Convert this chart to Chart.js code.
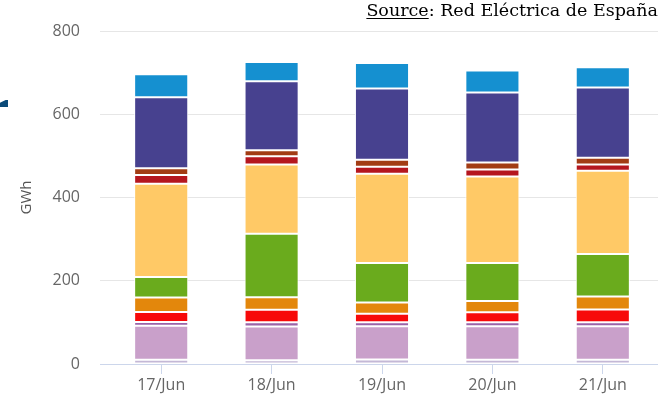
<!DOCTYPE html>
<html>
<head>
<meta charset="utf-8">
<script src="https://cdn.jsdelivr.net/npm/chart.js@4/dist/chart.umd.min.js"></script>
<style>
  body { margin: 0; background: #fff; }
  #wrap { position: relative; width: 659px; height: 398px; overflow: hidden; }
  #source {
    position: absolute; right: 1px; top: 0px;
    font-family: "DejaVu Serif", "Liberation Serif", serif;
    font-size: 17.5px; color: #000; white-space: nowrap;
  }
  #source u { text-underline-offset: 2px; }
  #mark {
    position: absolute; left: 0; top: 100px; width: 8px; height: 7px;
    background: #0b4a78;
    clip-path: polygon(0 40%, 70% 0, 100% 0, 100% 100%, 0 100%);
  }
</style>
</head>
<body>
<div id="wrap">
  <canvas id="chart" width="659" height="398"></canvas>
  <div id="source"><u>Source</u>: Red Eléctrica de España</div>
  <div id="mark"></div>
</div>
<script>
// --- DATA (GWh per day) ---
const days = ["17/Jun", "18/Jun", "19/Jun", "20/Jun", "21/Jun"];

const wasteVals     = [10, 9, 11, 10, 10];
const cogenVals     = [82, 81, 79.5, 80.5, 80.5];
const thermRenVals  = [9, 10.5, 10, 10, 10];
const solarThVals   = [24, 30, 20.5, 24, 30.5];
const solarPvVals   = [34.5, 30, 26.5, 27, 31];
const windVals      = [49.5, 152.5, 95, 91, 102];
const combCycleVals = [224, 166, 214.5, 208, 200];
const coalVals      = [21, 20, 17, 17, 15.5];
const fuelGasVals   = [16.5, 14.5, 16.5, 16.5, 16];
const nuclearVals   = [170.5, 166, 171.5, 168.5, 168.5];
const hydroVals     = [55, 46, 61, 52.5, 49];

const yTicks = [0, 200, 400, 600, 800];

// stack order, bottom to top
const series = [
    { label: "Residuos", data: wasteVals, color: "#c4b8d6" },
    { label: "Cogeneración", data: cogenVals, color: "#c9a0ca" },
    { label: "Térmica renovable", data: thermRenVals, color: "#9a63a8" },
    { label: "Solar térmica", data: solarThVals, color: "#f70a0a" },
    { label: "Solar fotovoltaica", data: solarPvVals, color: "#e3870c" },
    { label: "Eólica", data: windVals, color: "#6aab1d" },
    { label: "Ciclo combinado", data: combCycleVals, color: "#ffc966" },
    { label: "Carbón", data: coalVals, color: "#b5161e" },
    { label: "Fuel + Gas", data: fuelGasVals, color: "#a23c14" },
    { label: "Nuclear", data: nuclearVals, color: "#47418f" },
    { label: "Hidráulica", data: hydroVals, color: "#1590d0" }
];

const datasets = series.map(s => ({
    label: s.label,
    data: s.data,
    backgroundColor: s.color,
    borderColor: "#ffffff",
    borderWidth: 1,
    borderSkipped: false,
    categoryPercentage: 1,
    barPercentage: 0.49
}));

const tickFont = { family: "'Open Sans', sans-serif", size: 16 };

new Chart(document.getElementById("chart"), {
    type: "bar",
    data: { labels: days, datasets: datasets },
    options: {
        responsive: false,
        animation: false,
        layout: { padding: { top: 31, right: 1, left: 0, bottom: 0 } },
        plugins: { legend: { display: false }, tooltip: { enabled: false } },
        scales: {
            x: {
                stacked: true,
                border: { display: false },
                grid: {
                    offset: false,
                    drawOnChartArea: false,
                    drawTicks: true,
                    tickLength: 10,
                    color: "#ccd6eb"
                },
                ticks: { color: "#666666", font: tickFont, padding: 2, maxRotation: 0 },
                afterFit: (s) => { s.height = 34; }
            },
            y: {
                stacked: true,
                min: 0,
                max: 800,
                border: { display: false },
                afterBuildTicks: (s) => { s.ticks = yTicks.map(v => ({ value: v })); },
                grid: {
                    tickLength: 6,
                    color: (ctx) => ctx.tick && ctx.tick.value === 0 ? "#ccd6eb" : "#e6e6e6"
                },
                ticks: { color: "#666666", font: tickFont, padding: 20 },
                title: {
                    display: true,
                    text: "GWh",
                    color: "#555555",
                    font: { family: "'Open Sans', sans-serif", size: 15 },
                    padding: { top: 18, bottom: 0 }
                },
                afterFit: (s) => { s.width = 106; }
            }
        }
    }
});
</script>
</body>
</html>
